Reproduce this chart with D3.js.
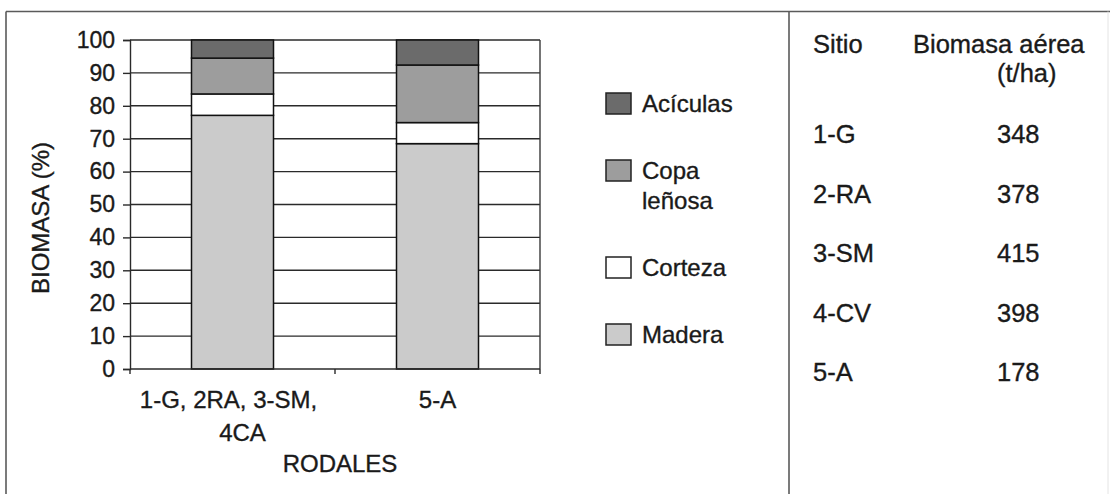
<!DOCTYPE html>
<html>
<head>
<meta charset="utf-8">
<script src="https://cdn.jsdelivr.net/npm/d3@7"></script>
<style>
  html, body { margin: 0; padding: 0; background: #fff; }
  svg { display: block; font-family: "Liberation Sans", Arial, Helvetica, sans-serif; }
  text { fill: #1a1a1a; stroke: #1a1a1a; stroke-width: 0.35px; }
</style>
</head>
<body>
<svg id="chart" width="1110" height="494"></svg>
<script>
// Stands (x categories), each label split into the lines it is printed on
const categories = ["1-G, 2RA, 3-SM, 4CA", "5-A"];
const categoryLines = [["1-G, 2RA, 3-SM,", "4CA"], ["5-A"]];

// Share of above-ground biomass (%) per component, bottom to top of each bar
const components = ["Madera", "Corteza", "Copa leñosa", "Acículas"];
const madera   = [77.1, 68.5];
const corteza  = [6.5, 6.4];
const copa     = [10.9, 17.5];
const aciculas = [5.5, 7.6];

const yTicks = [0, 10, 20, 30, 40, 50, 60, 70, 80, 90, 100];

// Side table: total above-ground biomass per site
const sitios  = ["1-G", "2-RA", "3-SM", "4-CV", "5-A"];
const biomasa = [348, 378, 415, 398, 178];

const fills = {
  "Madera": "#cbcbcb",
  "Corteza": "#ffffff",
  "Copa leñosa": "#9d9d9d",
  "Acículas": "#6b6b6b"
};

const svg = d3.select("#chart");
const margin = { left: 130, right: 570, top: 40, bottom: 125 };
const W = 1110, H = 494;
const innerW = W - margin.left - margin.right;
const innerH = H - margin.top - margin.bottom;

// Outer frame and divider between chart and table
const frame = svg.append("g").attr("stroke", "#5a5a5a").attr("stroke-width", 1.6).attr("fill", "none");
frame.append("line").attr("x1", 6).attr("x2", W).attr("y1", 11.5).attr("y2", 11.5);
frame.append("line").attr("x1", 6).attr("x2", 6).attr("y1", 11.5).attr("y2", H);
frame.append("line").attr("x1", 789).attr("x2", 789).attr("y1", 11.5).attr("y2", H);
svg.append("line").attr("x1", 1108).attr("x2", 1108).attr("y1", 11.5).attr("y2", H)
  .attr("stroke", "#e4e4e4").attr("stroke-width", 1);

const g = svg.append("g").attr("transform", `translate(${margin.left},${margin.top})`);

const x = d3.scaleBand().domain(categories).range([0, innerW]).paddingInner(0.6).paddingOuter(0.3);
const y = d3.scaleLinear().domain([0, 100]).range([innerH, 0]);

// Horizontal gridlines
g.append("g").selectAll("line").data(yTicks.filter(d => d > 0)).join("line")
  .attr("x1", 0).attr("x2", innerW)
  .attr("y1", d => y(d)).attr("y2", d => y(d))
  .attr("stroke", "#2a2a2a").attr("stroke-width", 1.4);

// Right border of plot area
g.append("line").attr("x1", innerW).attr("x2", innerW).attr("y1", 0).attr("y2", innerH)
  .attr("stroke", "#3a3a3a").attr("stroke-width", 1.4);

// Stacked bars
const rows = categories.map((c, i) => ({
  cat: c,
  "Madera": madera[i], "Corteza": corteza[i], "Copa leñosa": copa[i], "Acículas": aciculas[i]
}));
const stacked = d3.stack().keys(components)(rows);
g.append("g").selectAll("g").data(stacked).join("g")
  .attr("fill", d => fills[d.key])
  .selectAll("rect").data(d => d).join("rect")
  .attr("x", d => x(d.data.cat))
  .attr("width", x.bandwidth())
  .attr("y", d => y(d[1]))
  .attr("height", d => y(d[0]) - y(d[1]))
  .attr("stroke", "#111").attr("stroke-width", 1.5);

// Y axis
const yAxis = g.append("g").call(d3.axisLeft(y).tickValues(yTicks).tickSize(7).tickPadding(8));
yAxis.select(".domain").attr("stroke", "#2a2a2a").attr("stroke-width", 1.4);
yAxis.selectAll(".tick line").attr("stroke", "#2a2a2a").attr("stroke-width", 1.4);
yAxis.selectAll(".tick text").attr("font-size", 23).attr("fill", "#1a1a1a");

// X axis: baseline with ticks at the band boundaries
const xAxisG = g.append("g").attr("transform", `translate(0,${innerH})`);
xAxisG.append("line").attr("x1", 0).attr("x2", innerW).attr("y1", 0).attr("y2", 0)
  .attr("stroke", "#2a2a2a").attr("stroke-width", 1.4);
const bounds = [0, innerW / 2, innerW];
xAxisG.selectAll(".xt").data(bounds).join("line")
  .attr("x1", d => d).attr("x2", d => d).attr("y1", 0).attr("y2", 5)
  .attr("stroke", "#2a2a2a").attr("stroke-width", 1.4);

// Category labels (wrapped lines, second line nudged as in the printed layout)
const lineNudge = [-4, 10];
categories.forEach((c, i) => {
  const cx = x(c) + x.bandwidth() / 2;
  const t = xAxisG.append("text").attr("text-anchor", "middle").attr("font-size", 24)
    .attr("y", 39);
  categoryLines[i].forEach((line, j) => {
    const nudge = categoryLines[i].length > 1 ? lineNudge[j] : 0;
    t.append("tspan").attr("x", cx + nudge).attr("dy", j === 0 ? 0 : 33).text(line);
  });
});

// Axis titles
g.append("text").attr("x", innerW / 2 + 5).attr("y", innerH + 103)
  .attr("text-anchor", "middle").attr("font-size", 24).text("RODALES");
svg.append("text")
  .attr("transform", `translate(49,218) rotate(-90)`)
  .attr("text-anchor", "middle").attr("font-size", 24)
  .text("BIOMASA (%)");

// Legend (top to bottom: last stacked component first)
const legendItems = [
  { key: "Acículas", lines: ["Acículas"] },
  { key: "Copa leñosa", lines: ["Copa", "leñosa"] },
  { key: "Corteza", lines: ["Corteza"] },
  { key: "Madera", lines: ["Madera"] }
];
const legend = svg.append("g").attr("transform", "translate(606,93)");
let ly = 0;
legendItems.forEach(item => {
  const it = legend.append("g").attr("transform", `translate(0,${ly})`);
  it.append("rect").attr("width", 25).attr("height", 21)
    .attr("fill", fills[item.key]).attr("stroke", "#222").attr("stroke-width", 1.5);
  const t = it.append("text").attr("x", 36).attr("y", 19).attr("font-size", 24);
  item.lines.forEach((line, j) => {
    t.append("tspan").attr("x", 36).attr("dy", j === 0 ? 0 : 30).text(line);
  });
  ly += 67 + (item.lines.length - 1) * 30;
});

// Site table
const table = svg.append("g").attr("font-size", 25.5);
table.append("text").attr("x", 813).attr("y", 53).text("Sitio");
table.append("text").attr("x", 913).attr("y", 53).text("Biomasa aérea");
table.append("text").attr("x", 997).attr("y", 82).text("(t/ha)");
const rowY = d3.scalePoint().domain(sitios).range([143, 381]);
table.selectAll(".sitio").data(sitios).join("text")
  .attr("x", 813).attr("y", d => rowY(d)).text(d => d);
table.selectAll(".valor").data(sitios).join("text")
  .attr("x", 997).attr("y", d => rowY(d)).text((d, i) => biomasa[i]);
</script>
</body>
</html>
